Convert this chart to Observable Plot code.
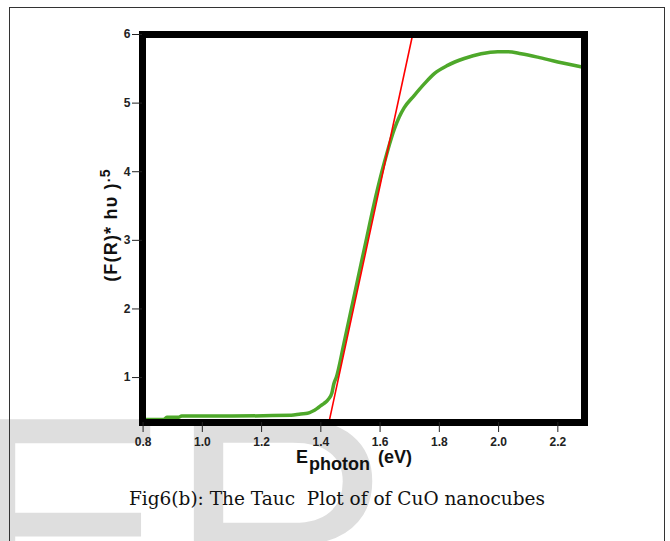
<!DOCTYPE html>
<html><head><meta charset="utf-8">
<script src="https://cdn.jsdelivr.net/npm/d3@7"></script>
<script src="https://cdn.jsdelivr.net/npm/@observablehq/plot@0.6"></script>
<style>
html,body{margin:0;padding:0;background:#fff;width:670px;height:541px;overflow:hidden;}
#wrap{position:relative;width:670px;height:541px;overflow:hidden;}
.layer{position:absolute;left:0;top:0;}
#border{position:absolute;left:9px;top:7px;width:656px;height:600px;border:1.5px solid #333;box-sizing:border-box;}
</style>
</head><body>
<div id="wrap">
<svg class="layer" width="670" height="541">
  <text x="-40" y="636" font-family="Liberation Sans" font-size="315" fill="#dedede">E</text>
  <text x="168" y="636" font-family="Liberation Sans" font-size="315" fill="#dedede">R</text>
</svg>
<div id="border"></div>
<div id="chart" class="layer"></div>
<svg class="layer" width="670" height="541">
  <text id="caption" x="337" y="505" text-anchor="middle" font-family="DejaVu Serif" font-size="18.5" fill="#111" xml:space="preserve">Fig6(b): The Tauc  Plot of of CuO nanocubes</text>
</svg>
</div>
<script>
const energy = [0.80, 0.87, 0.88, 0.92, 0.93, 1.10, 1.30, 1.332, 1.355, 1.388, 1.40, 1.41, 1.425, 1.437, 1.444, 1.452, 1.478, 1.503, 1.528, 1.553, 1.578, 1.606, 1.625, 1.648, 1.665, 1.681, 1.715, 1.749, 1.783, 1.828, 1.884, 1.941, 1.997, 2.031, 2.076, 2.132, 2.20, 2.29];
const tauc   = [0.39, 0.39, 0.42, 0.42, 0.44, 0.44, 0.45, 0.47, 0.48, 0.55, 0.59, 0.62, 0.68, 0.77, 0.91, 1.00, 1.50, 2.00, 2.50, 3.00, 3.50, 4.00, 4.30, 4.62, 4.80, 4.93, 5.11, 5.28, 5.43, 5.55, 5.65, 5.72, 5.75, 5.75, 5.72, 5.67, 5.60, 5.52];
// Linear extrapolation (band gap fit)
const fitX = [1.4275, 1.71];
const fitY = [0.35, 6.0];
// Tick labels
const xTicks = [0.8, 1.0, 1.2, 1.4, 1.6, 1.8, 2.0, 2.2];
const yTicks = [1, 2, 3, 4, 5, 6];

const curve = energy.map((e, i) => ({e, v: tauc[i]}));
const fit = fitX.map((e, i) => ({e, v: fitY[i]}));

const chart = Plot.plot({
  width: 670, height: 480,
  marginLeft: 142, marginRight: 86, marginTop: 34, marginBottom: 58,
  style: {fontFamily: "Liberation Sans, Arial, sans-serif", fontSize: "12px", fontWeight: "bold", color: "#222", background: "transparent", overflow: "visible"},
  x: {domain: [0.798, 2.29]},
  y: {domain: [0.345, 6]},
  marks: [
    Plot.line(curve, {x: "e", y: "v", stroke: "#4ea82a", strokeWidth: 3.5, curve: "monotone-x"}),
    Plot.line(fit, {x: "e", y: "v", stroke: "#ff0000", strokeWidth: 1.6}),
    Plot.frame({stroke: "#000", strokeWidth: 7}),
    Plot.axisX({ticks: xTicks, tickFormat: d => d.toFixed(1), tickSize: 10, tickPadding: 5, label: null, fontSize: 12, fontWeight: "bold", fill: "#222", stroke: "#222"}),
    Plot.axisY({ticks: yTicks, tickFormat: d => String(d), tickSize: 10, tickPadding: 2, label: null, fontSize: 12, fontWeight: "bold", fill: "#222", stroke: "#222"})
  ]
});
document.getElementById("chart").appendChild(chart);

const svg = d3.select(chart);
const yl = svg.append("text")
  .attr("transform", "translate(117,225) rotate(-90)")
  .attr("text-anchor", "middle")
  .attr("font-family", "Liberation Sans, Arial, sans-serif")
  .attr("letter-spacing", 1.2)
  .attr("font-weight", "bold").attr("font-size", 18).attr("fill", "#111");
yl.append("tspan").text("(F(R)* hυ )");
yl.append("tspan").attr("dy", -7).attr("font-size", 14).text(".5");

const xl = svg.append("text")
  .attr("x", 296).attr("y", 463)
  .attr("text-anchor", "start")
  .attr("font-family", "Liberation Sans, Arial, sans-serif")
  .attr("font-weight", "bold").attr("font-size", 18).attr("fill", "#111");
xl.append("tspan").text("E");
xl.append("tspan").attr("dx", 1).attr("dy", 7).text("photon");
xl.append("tspan").attr("dx", 8).attr("dy", -7).text("(eV)");
</script>
</body></html>
